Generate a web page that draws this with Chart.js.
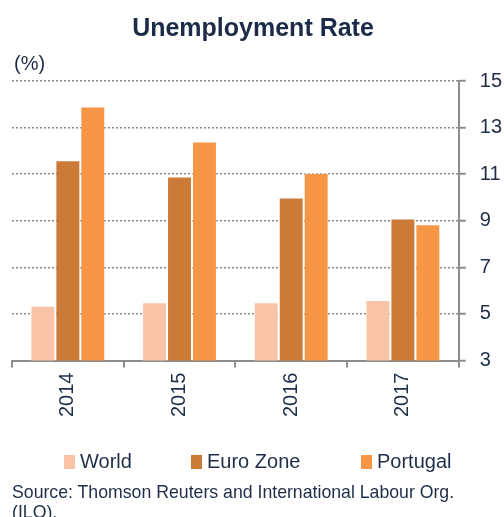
<!DOCTYPE html>
<html>
<head>
<meta charset="utf-8">
<script src="https://cdn.jsdelivr.net/npm/chart.js@4"></script>
<style>
  html, body { margin: 0; padding: 0; background: #fff; }
  #wrap { position: relative; width: 504px; height: 517px; overflow: hidden; font-family: "Liberation Sans", Arial, sans-serif; color: #1F2D47; }
  #c { position: absolute; left: 0; top: 0; }
  #title { position: absolute; left: 0; top: 12px; width: 506px; text-align: center; font-size: 25px; line-height: 30px; font-weight: bold; color: #1C2B47; }
  #unit { position: absolute; left: 14px; top: 51px; font-size: 20px; line-height: 24px; }
  #legend { position: absolute; left: 0; top: 449px; width: 504px; height: 24px; }
  .li { position: absolute; top: 0; font-size: 20px; line-height: 24px; white-space: nowrap; }
  .li span.box { display: inline-block; width: 11px; height: 14px; margin-right: 5px; vertical-align: -1px; }
  #source { position: absolute; left: 12px; top: 482px; font-size: 17.7px; line-height: 20px; color: #1F2D47; width: 500px; white-space: nowrap; }
</style>
</head>
<body>
<div id="wrap">
  <canvas id="c" width="504" height="517"></canvas>
  <div id="title">Unemployment Rate</div>
  <div id="unit">(%)</div>
  <div id="legend"></div>
  <div id="source">Source: Thomson Reuters and International Labour Org.<br>(ILO).</div>
</div>
<script>
const categories = ["2014", "2015", "2016", "2017"];
const seriesNames = ["World", "Euro Zone", "Portugal"];
const worldValues = [5.35, 5.5, 5.5, 5.6];
const euroValues = [11.6, 10.9, 10.0, 9.1];
const portugalValues = [13.9, 12.4, 11.05, 8.85];
const yTicks = [3, 5, 7, 9, 11, 13, 15];
const seriesColors = ["#F9C3A8", "#CC7A37", "#F79646"];

const textColor = "#1F2D47";
const axisGray = "#8C8C8C";

const allSeries = [worldValues, euroValues, portugalValues];
const datasets = allSeries.map((vals, i) => ({
  label: seriesNames[i],
  data: vals,
  backgroundColor: seriesColors[i],
  borderColor: "rgba(255,255,255,0.35)",
  borderWidth: 1,
  categoryPercentage: 0.67,
  barPercentage: 1.0
}));

new Chart(document.getElementById("c"), {
  type: "bar",
  data: { labels: categories, datasets: datasets },
  options: {
    responsive: false,
    animation: false,
    events: [],
    layout: { padding: { left: 12, right: -12, top: 81, bottom: 95 } },
    plugins: {
      legend: { display: false },
      tooltip: { enabled: false },
      title: { display: false }
    },
    scales: {
      x: {
        offset: true,
        grid: {
          display: true,
          offset: true,
          drawOnChartArea: false,
          drawTicks: true,
          tickLength: 7,
          color: axisGray,
          lineWidth: 2
        },
        border: { display: true, color: axisGray, width: 2 },
        ticks: {
          color: textColor,
          font: { family: "'Liberation Sans', Arial, sans-serif", size: 20 },
          minRotation: 90,
          maxRotation: 90,
          padding: 5
        }
      },
      y: {
        position: "right",
        min: 3,
        max: 15,
        afterBuildTicks: (axis) => { axis.ticks = yTicks.map(v => ({ value: v })); },
        grid: {
          display: true,
          color: (ctx) => (ctx.tick && ctx.tick.value === 3) ? "rgba(0,0,0,0)" : "#8A8A8A",
          lineWidth: 1.5,
          drawTicks: true,
          tickLength: 7,
          tickColor: axisGray,
          tickWidth: 2,
          tickBorderDash: [1, 0]
        },
        border: { display: true, color: axisGray, width: 2, dash: [2, 2] },
        ticks: {
          color: textColor,
          font: { family: "'Liberation Sans', Arial, sans-serif", size: 20 },
          padding: 14,
          callback: (v) => String(v)
        }
      }
    }
  }
});

// Legend built from the series arrays
const legendEl = document.getElementById("legend");
const legendX = [64, 191, 361];
seriesNames.forEach((name, i) => {
  const d = document.createElement("div");
  d.className = "li";
  d.style.left = legendX[i] + "px";
  const b = document.createElement("span");
  b.className = "box";
  b.style.background = seriesColors[i];
  d.appendChild(b);
  d.appendChild(document.createTextNode(name));
  legendEl.appendChild(d);
});
</script>
</body>
</html>
